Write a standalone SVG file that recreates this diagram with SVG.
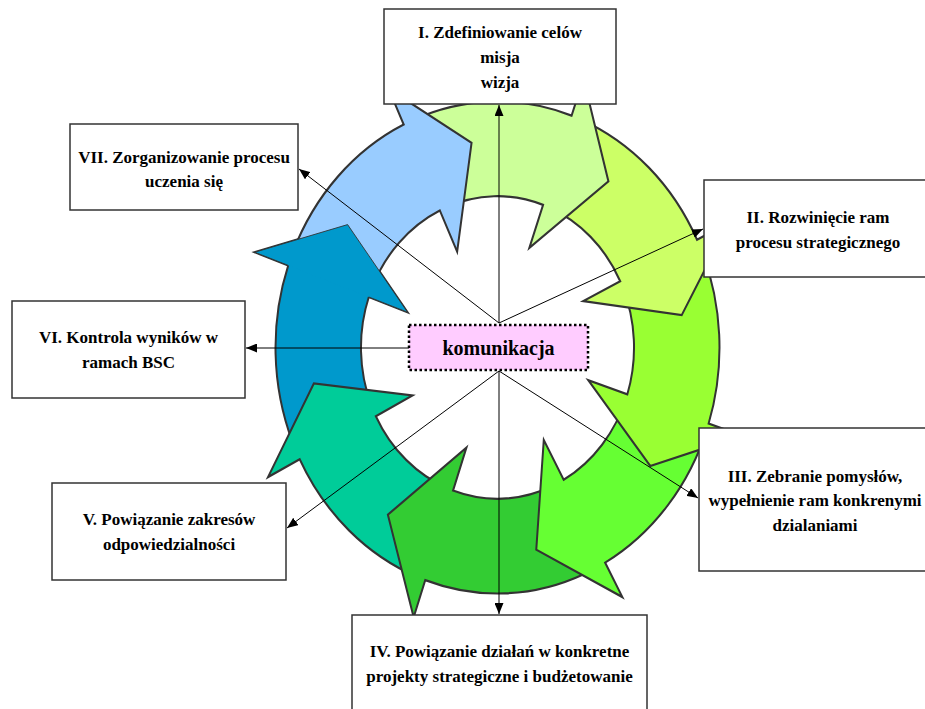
<svg xmlns="http://www.w3.org/2000/svg" xmlns:xlink="http://www.w3.org/1999/xlink" width="925" height="709" viewBox="0 0 925 709">
<style>
.arr{stroke:#333;stroke-width:0.9;stroke-linejoin:miter;vector-effect:non-scaling-stroke}
.ov{stroke:none}
.ovs{fill:none;stroke:#333;stroke-width:0.9;vector-effect:non-scaling-stroke}
.box{fill:#fff;stroke:#333;stroke-width:1.5}
.t{font-family:"Liberation Serif","Times New Roman",serif;font-weight:bold;font-size:17px;fill:#000;text-anchor:middle}
.con{stroke:#000;stroke-width:1;fill:none;marker-end:url(#ah)}
</style>
<defs>
<path id="arrow" d="M-66.91,-74.31 A100,100 0 0 1 0,-100 L0,-116 L24.56,-80.33 L0,-43 L0,-61.5 A61.5,61.5 0 0 0 -41.15,-45.7 Z"/>
<marker id="ah" markerUnits="userSpaceOnUse" markerWidth="11" markerHeight="9" refX="11" refY="4.5" orient="auto">
<path d="M0,0 L11,4.5 L0,9 Z" fill="#000"/>
</marker>
</defs>
<rect width="925" height="709" fill="#fff"/>
<g id="cycle" transform="translate(497.5,347.5) scale(2.22,2.46)">
<use xlink:href="#arrow" class="arr" fill="#0099CC" transform="rotate(289.5)"/>
<use xlink:href="#arrow" class="arr" fill="#00CC99" transform="rotate(243)"/>
<use xlink:href="#arrow" class="arr" fill="#33CC33" transform="rotate(199)"/>
<use xlink:href="#arrow" class="arr" fill="#66FF33" transform="rotate(151)"/>
<use xlink:href="#arrow" class="arr" fill="#99FF33" transform="rotate(108)"/>
<use xlink:href="#arrow" class="arr" fill="#CCFF66" transform="rotate(64)"/>
<use xlink:href="#arrow" class="arr" fill="#CCFF99" transform="rotate(19.5)"/>
<use xlink:href="#arrow" class="arr" fill="#99CCFF" transform="rotate(-25)"/>
<g transform="rotate(289.5)">
<path class="ov" fill="#0099CC" d="M0,-116 L24.56,-80.33 L0,-43 Z"/>
<path class="ovs" d="M0,-100 L0,-116 L24.56,-80.33 L0,-43 L0,-61.5"/>
</g>
</g>
<g id="connectors">
<line class="con" x1="499" y1="323" x2="499" y2="105"/>
<line class="con" x1="499" y1="323" x2="299" y2="169"/>
<line class="con" x1="499" y1="323" x2="703" y2="229"/>
<line class="con" x1="409" y1="348" x2="246" y2="348"/>
<line class="con" x1="499" y1="371" x2="499" y2="614"/>
<line class="con" x1="499" y1="371" x2="287" y2="528"/>
<line class="con" x1="499" y1="371" x2="698" y2="498"/>
</g>
<g id="center">
<rect x="409" y="325" width="179" height="45" fill="#FFCCFF" stroke="#000" stroke-width="2.5" stroke-dasharray="2.5,2.5"/>
<text class="t" x="498.5" y="355" style="font-size:20px">komunikacja</text>
</g>
<g id="n1">
<rect class="box" x="384" y="9" width="232" height="95"/>
<text class="t" x="500" y="38">I. Zdefiniowanie celów</text>
<text class="t" x="500" y="63">misja</text>
<text class="t" x="500" y="88">wizja</text>
</g>
<g id="n2">
<rect class="box" x="704" y="180" width="228" height="97"/>
<text class="t" x="818" y="223">II. Rozwinięcie ram</text>
<text class="t" x="818" y="248">procesu strategicznego</text>
</g>
<g id="n3">
<rect class="box" x="699" y="428" width="233" height="143"/>
<text class="t" x="815" y="482">III. Zebranie pomysłów,</text>
<text class="t" x="815" y="506">wypełnienie ram konkrenymi</text>
<text class="t" x="815" y="531">dzialaniami</text>
</g>
<g id="n4">
<rect class="box" x="352" y="615" width="295" height="100"/>
<text class="t" x="499.5" y="657">IV. Powiązanie działań w konkretne</text>
<text class="t" x="499.5" y="682">projekty strategiczne i budżetowanie</text>
</g>
<g id="n5">
<rect class="box" x="52" y="483" width="234" height="97"/>
<text class="t" x="169" y="525">V. Powiązanie zakresów</text>
<text class="t" x="169" y="550">odpowiedzialności</text>
</g>
<g id="n6">
<rect class="box" x="12" y="301" width="233" height="97"/>
<text class="t" x="128.5" y="343">VI. Kontrola wyników w</text>
<text class="t" x="128.5" y="368">ramach BSC</text>
</g>
<g id="n7">
<rect class="box" x="70" y="124" width="228" height="86"/>
<text class="t" x="184" y="163">VII. Zorganizowanie procesu</text>
<text class="t" x="184" y="187">uczenia się</text>
</g>
</svg>
